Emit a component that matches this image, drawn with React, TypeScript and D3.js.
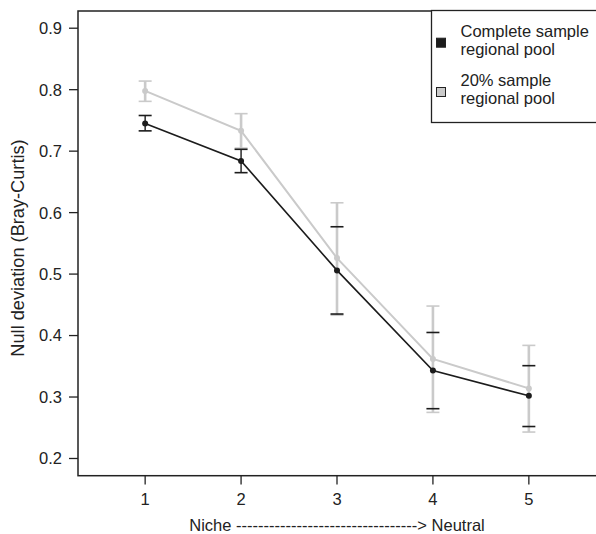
import React from "react";
import * as d3 from "d3";

// Gradient of community assembly, niche (1) to neutral (5)
const niche = [1, 2, 3, 4, 5];

// Complete sample regional pool: mean and error bar limits
const completeMean = [0.745, 0.684, 0.506, 0.343, 0.302];
const completeUpper = [0.758, 0.703, 0.577, 0.405, 0.351];
const completeLower = [0.733, 0.665, 0.435, 0.281, 0.252];

// 20% sample regional pool: mean and error bar limits
const sampleMean = [0.798, 0.733, 0.526, 0.362, 0.314];
const sampleUpper = [0.814, 0.761, 0.616, 0.448, 0.384];
const sampleLower = [0.781, 0.705, 0.433, 0.275, 0.243];

const yTicks = [0.2, 0.3, 0.4, 0.5, 0.6, 0.7, 0.8, 0.9];
const legendLabels = [
  ["Complete sample", "regional pool"],
  ["20% sample", "regional pool"],
];

const W = 596;
const H = 534;
const FONT = "'Liberation Sans', Arial, Helvetica, sans-serif";
const FS = 16.5;
const INK = "#222";
const BLACK = "#1c1c1c";
const GREY = "#cacaca";

export default function App() {
  const x = d3.scaleLinear().domain([0.3, 5.7]).range([78, 596]);
  const y = d3.scaleLinear().domain([0.172, 0.928]).range([475.7, 11]);
  const line = d3
    .line<number>()
    .x((_, i) => x(niche[i]))
    .y((d) => y(d));

  const cap = 6.5;

  const bars = (
    upper: number[],
    lower: number[],
    color: string,
    width: number,
    part: "stem" | "cap"
  ) =>
    niche.map((n, i) =>
      part === "stem" ? (
        <line
          key={`s${i}`}
          x1={x(n)}
          x2={x(n)}
          y1={y(upper[i])}
          y2={y(lower[i])}
          stroke={color}
          strokeWidth={width}
        />
      ) : (
        <g key={`c${i}`}>
          <line x1={x(n) - cap} x2={x(n) + cap} y1={y(upper[i])} y2={y(upper[i])} stroke={color} strokeWidth={width} />
          <line x1={x(n) - cap} x2={x(n) + cap} y1={y(lower[i])} y2={y(lower[i])} stroke={color} strokeWidth={width} />
        </g>
      )
    );

  return (
    <svg
      width={W}
      height={H}
      style={{ position: "absolute", left: 0, top: 0, background: "#fff" }}
      fontFamily={FONT}
      fontSize={FS}
    >
      <rect x={0} y={0} width={W} height={H} fill="#fff" />

      {/* error bars */}
      <g>{bars(completeUpper, completeLower, BLACK, 1.4, "stem")}</g>
      <g>{bars(sampleUpper, sampleLower, GREY, 2.6, "stem")}</g>
      <g>{bars(sampleUpper, sampleLower, GREY, 1.6, "cap")}</g>
      <g>{bars(completeUpper, completeLower, BLACK, 1.6, "cap")}</g>

      {/* mean lines and points */}
      <path d={line(sampleMean) || ""} fill="none" stroke={GREY} strokeWidth={2} />
      <path d={line(completeMean) || ""} fill="none" stroke={BLACK} strokeWidth={1.6} />
      {niche.map((n, i) => (
        <circle key={`gp${i}`} cx={x(n)} cy={y(sampleMean[i])} r={3} fill={GREY} />
      ))}
      {niche.map((n, i) => (
        <circle key={`bp${i}`} cx={x(n)} cy={y(completeMean[i])} r={3} fill={BLACK} />
      ))}

      {/* plot frame */}
      <rect x={78} y={11} width={W - 78 + 5} height={475.7 - 11} fill="none" stroke={INK} strokeWidth={1.5} />

      {/* y axis */}
      {yTicks.map((t) => (
        <g key={t}>
          <line x1={69} x2={78} y1={y(t)} y2={y(t)} stroke={INK} strokeWidth={1.3} />
          <text x={62} y={y(t)} dy="0.36em" textAnchor="end" fill={INK}>
            {t.toFixed(1)}
          </text>
        </g>
      ))}
      <text
        transform={`translate(23.5,248) rotate(-90)`}
        textAnchor="middle"
        fill={INK}
        fontSize={18.2}
      >
        Null deviation (Bray-Curtis)
      </text>

      {/* x axis */}
      {niche.map((n) => (
        <g key={n}>
          <line x1={x(n)} x2={x(n)} y1={475.7} y2={484.5} stroke={INK} strokeWidth={1.3} />
          <text x={x(n)} y={505} textAnchor="middle" fill={INK}>
            {n}
          </text>
        </g>
      ))}
      <text x={337} y={531} textAnchor="middle" fill={INK}>
        {"Niche ---------------------------------> Neutral"}
      </text>

      {/* legend */}
      <rect x={431.5} y={10.5} width={W - 431.5 + 5} height={112} fill="#fff" stroke={INK} strokeWidth={1.3} />
      {legendLabels.map((lines, k) => {
        const base = k === 0 ? 36.7 : 86;
        return (
          <g key={k}>
            <rect
              x={436.5}
              y={base + 1.5}
              width={9}
              height={9}
              fill={k === 0 ? BLACK : GREY}
              stroke={INK}
              strokeWidth={1}
            />
            <text x={460.5} y={base} fill={INK}>
              {lines[0]}
            </text>
            <text x={460.5} y={base + 18.3} fill={INK}>
              {lines[1]}
            </text>
          </g>
        );
      })}
    </svg>
  );
}
